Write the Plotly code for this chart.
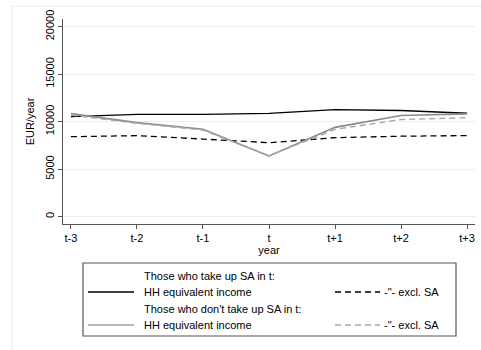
import plotly.graph_objects as go

years = ["t-3", "t-2", "t-1", "t", "t+1", "t+2", "t+3"]
takeup_income = [10530, 10780, 10780, 10880, 11260, 11180, 10890]
takeup_excl = [8420, 8530, 8170, 7790, 8320, 8470, 8540]
notake_income = [10850, 9900, 9200, 6390, 9400, 10650, 10820]
notake_excl = [10700, 9830, 9120, 6390, 9190, 10230, 10420]
yticks = [0, 5000, 10000, 15000, 20000]

W, H = 481, 350
L, R, T, B = 63, 6, 19, 126
pw, ph = W - L - R, H - T - B

def px(x):
    return (x - L) / pw

def py(y):
    return (H - B - y) / ph

fig = go.Figure()
xi = list(range(len(years)))
fig.add_trace(go.Scatter(x=xi, y=takeup_income, mode="lines",
                         line=dict(color="#000000", width=1.3), showlegend=False))
fig.add_trace(go.Scatter(x=xi, y=takeup_excl, mode="lines",
                         line=dict(color="#000000", width=1.3, dash="6px,4px"), showlegend=False))
fig.add_trace(go.Scatter(x=xi, y=notake_income, mode="lines",
                         line=dict(color="#8a8a8a", width=1.6), showlegend=False))
fig.add_trace(go.Scatter(x=xi, y=notake_excl, mode="lines",
                         line=dict(color="#a8a8a8", width=1.4, dash="6px,4px"), showlegend=False))

font = dict(family="Liberation Sans, Arial, sans-serif", size=11, color="#000000")

fig.update_layout(
    width=W, height=H,
    margin=dict(l=L, r=R, t=T, b=B, pad=0),
    paper_bgcolor="white", plot_bgcolor="white",
    font=font,
    xaxis=dict(range=[-0.12, 6.12], tickmode="array", tickvals=xi, ticktext=years,
               showgrid=False, zeroline=False, showline=True, linecolor="#555555",
               linewidth=1.2, ticks="outside", ticklen=4, tickcolor="#555555",
               title=dict(text="year", font=font, standoff=2)),
    yaxis=dict(range=[-770, 20810], tickmode="array", tickvals=yticks,
               ticktext=[str(v) for v in yticks], tickangle=-90,
               showgrid=True, gridcolor="#e6eff0", gridwidth=1, zeroline=False,
               showline=True, linecolor="#555555", linewidth=1.2,
               ticks="outside", ticklen=4, tickcolor="#555555",
               title=dict(text="EUR/year", font=font, standoff=6)),
)

shapes = []
# outer faint frame
shapes.append(dict(type="line", xref="paper", yref="paper", x0=px(12), x1=px(481),
                   y0=py(6), y1=py(6), line=dict(color="#e3eced", width=1)))
shapes.append(dict(type="line", xref="paper", yref="paper", x0=px(12), x1=px(12),
                   y0=py(6), y1=py(350), line=dict(color="#e3eced", width=1)))
# legend box
shapes.append(dict(type="rect", xref="paper", yref="paper", x0=px(83), x1=px(456),
                   y0=py(263), y1=py(336), line=dict(color="#555555", width=1.2),
                   fillcolor="white"))

legend_rows = [276, 292, 308.5, 325]
# samples
shapes.append(dict(type="line", xref="paper", yref="paper", x0=px(88), x1=px(134),
                   y0=py(legend_rows[1]), y1=py(legend_rows[1]),
                   line=dict(color="#000000", width=1.3)))
shapes.append(dict(type="line", xref="paper", yref="paper", x0=px(88), x1=px(134),
                   y0=py(legend_rows[3]), y1=py(legend_rows[3]),
                   line=dict(color="#a0a0a0", width=1.4)))
shapes.append(dict(type="line", xref="paper", yref="paper", x0=px(335), x1=px(380),
                   y0=py(legend_rows[1]), y1=py(legend_rows[1]),
                   line=dict(color="#000000", width=1.3, dash="6px,4px")))
shapes.append(dict(type="line", xref="paper", yref="paper", x0=px(335), x1=px(380),
                   y0=py(legend_rows[3]), y1=py(legend_rows[3]),
                   line=dict(color="#a8a8a8", width=1.4, dash="6px,4px")))

ann = []
texts = [
    (142, legend_rows[0], "Those who take up SA in t:"),
    (142, legend_rows[1], "HH equivalent income"),
    (142, legend_rows[2], "Those who don't take up SA in t:"),
    (142, legend_rows[3], "HH equivalent income"),
    (382, legend_rows[1], "-\"- excl. SA"),
    (382, legend_rows[3], "-\"- excl. SA"),
]
for x, y, t in texts:
    ann.append(dict(xref="paper", yref="paper", x=px(x), y=py(y), text=t,
                    showarrow=False, xanchor="left", yanchor="middle", font=font))

fig.update_layout(shapes=shapes, annotations=ann)
fig.write_html("out.html")
